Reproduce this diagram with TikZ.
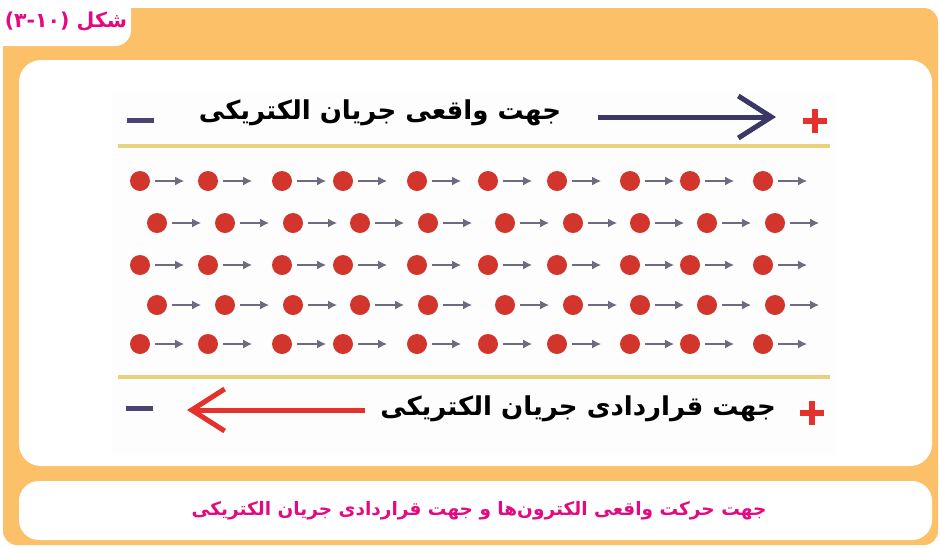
\documentclass[tikz,border=0pt]{standalone}
\usepackage{fontspec}
\newfontfamily\farsi[Script=Arabic]{DejaVu Sans}
\TeXXeTstate=1
\usetikzlibrary{positioning,arrows.meta}
\definecolor{frameorange}{HTML}{FCC068}
\definecolor{captionpink}{HTML}{E4097F}
\definecolor{dotred}{HTML}{D2352B}
\definecolor{driftgray}{HTML}{6E6A80}
\definecolor{railyellow}{HTML}{E8D27C}
\definecolor{realnavy}{HTML}{3B3767}
\definecolor{conventred}{HTML}{E5312C}
\definecolor{minuspurple}{HTML}{4A4570}

\begin{document}
\begin{tikzpicture}[x=1pt,y=-1pt,every node/.style={inner sep=0pt},
	dot/.style={circle,fill=dotred,minimum size=20pt},
	drift/.style={draw=driftgray,line width=2.4pt,-{Latex[length=9pt,width=9pt]}},
	minussign/.style={fill=minuspurple,minimum width=27pt,minimum height=5pt},
	plussign/.style={minimum size=24pt,path picture={
		\fill[conventred]([xshift=-3pt]path picture bounding box.north)rectangle([xshift=3pt]path picture bounding box.south);
		\fill[conventred]([yshift=-3pt]path picture bounding box.west)rectangle([yshift=3pt]path picture bounding box.east);}},
	bigarrow/.style={line width=5pt,-{Straight Barb[length=33pt,width=42pt]}},
	label/.style={font=\farsi\bfseries\fontsize{26}{30}\selectfont},
	pinktext/.style={text=captionpink,font=\farsi\bfseries\fontsize{18.5}{22}\selectfont}]
\useasboundingbox(0,0)rectangle(940,547);

% frame and panels
\fill[frameorange,rounded corners=14](3,8)rectangle(938,545);
\fill[white,rounded corners=16](-20,-20)rectangle(131,46);
\fill[white,rounded corners=22](19,60)rectangle(932,466);
\fill[white,rounded corners=20](19,481)rectangle(932,540);
\fill[black!0.6](112,92)rectangle(836,455);

\node[pinktext,font=\farsi\bfseries\fontsize{20.5}{24}\selectfont] (title) at (66,22) {(۳-۱۰) {\beginR شکل\endR}};
\node[pinktext] (caption) at (479,511) {\beginR جهت حرکت واقعی الکترون‌ها و جهت قراردادی جریان الکتریکی\endR};

% conductor
\draw[railyellow,line width=4pt](118,146)--(830,146);
\draw[railyellow,line width=4pt](118,377)--(830,377);

\def\oddrow{140,208,282,343,417,488,557,630,690,763}
\def\evenrow{157,225,293,360,428,505,573,640,707,775}
\foreach \r/\y in {1/181,3/265,5/344}
	\foreach \x [count=\i] in \oddrow {
		\node[dot] (d\r-\i) at (\x,\y) {};
		\draw[drift]([xshift=5pt]d\r-\i.east)--++(29,0);
	}
\foreach \r/\y in {2/223,4/305}
	\foreach \x [count=\i] in \evenrow {
		\node[dot] (d\r-\i) at (\x,\y) {};
		\draw[drift]([xshift=5pt]d\r-\i.east)--++(29,0);
	}

% real direction
\node[minussign] (minustop) at (140,120) {};
\node[plussign] (plustop) at (815,121) {};
\node[label] (real) at (380,113) {\beginR جهت واقعی جریان الکتریکی\endR};
\coordinate (realtail) at (598,117);
\coordinate (realtip) at (776,117);
\draw[bigarrow,realnavy](realtail)--(realtip);

% conventional direction
\node[minussign] (minusbot) at (139,408) {};
\node[plussign] (plusbot) at (812,413) {};
\node[label] (convent) at (578,409) {\beginR جهت قراردادی جریان الکتریکی\endR};
\coordinate (conventtail) at (365,410);
\coordinate (conventtip) at (187,410);
\draw[bigarrow,conventred](conventtail)--(conventtip);

\end{tikzpicture}
\end{document}
